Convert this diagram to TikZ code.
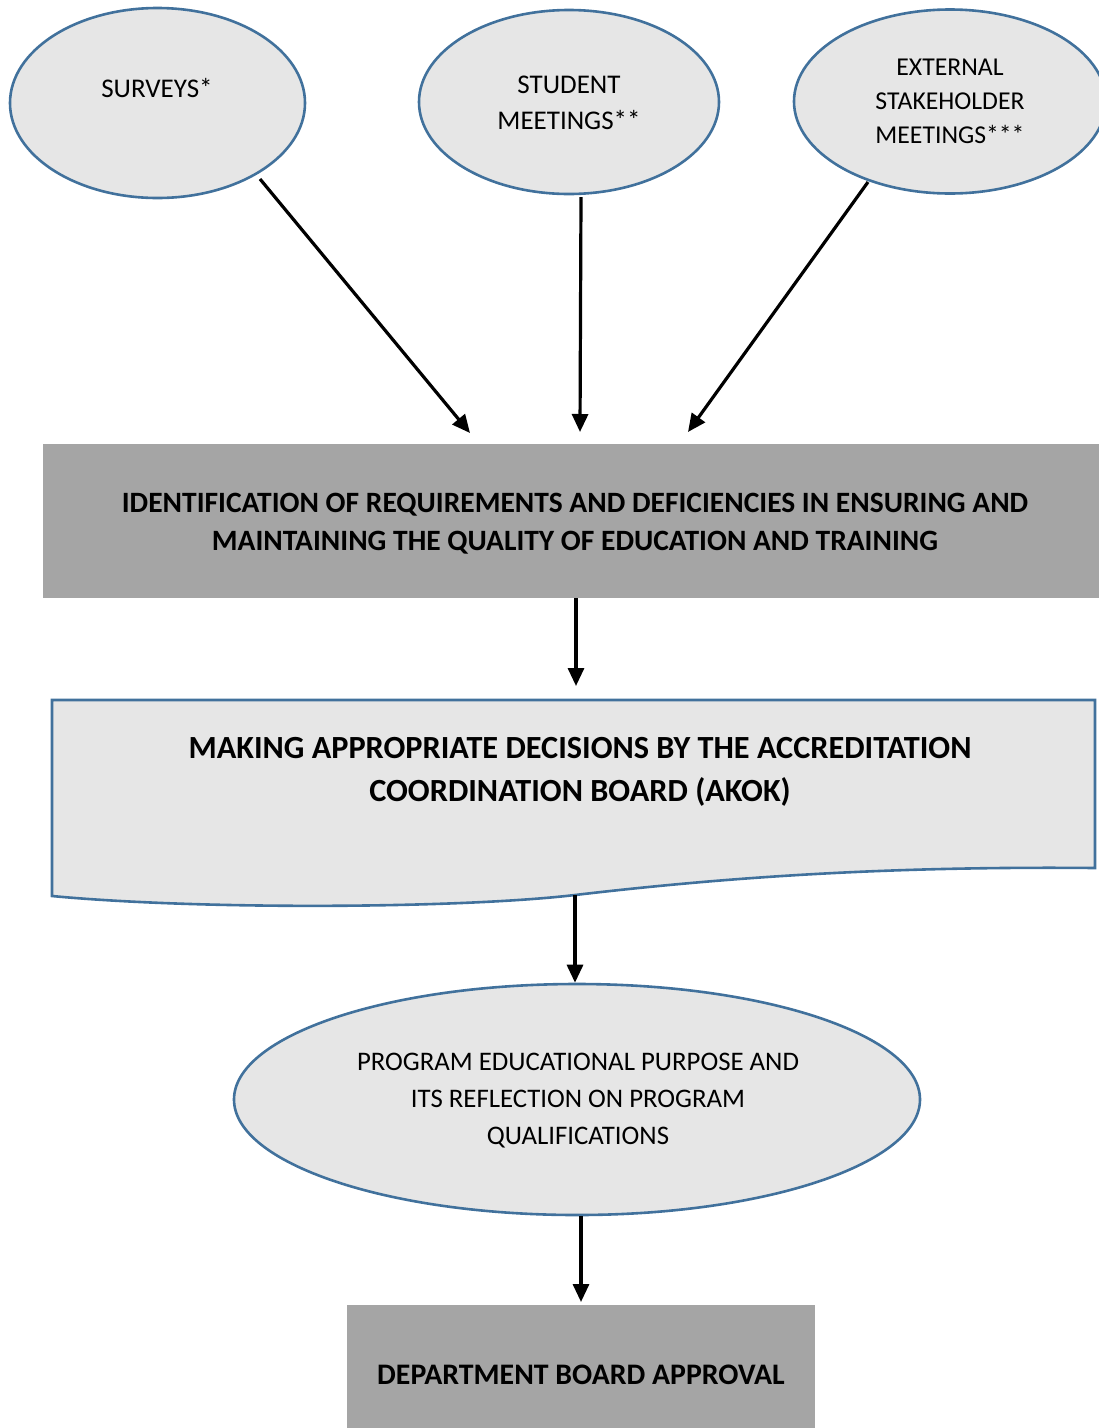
\documentclass[tikz,border=0pt]{standalone}
\usepackage{fontspec}
\setmainfont{Carlito}
\usetikzlibrary{shapes.geometric,arrows.meta}
\definecolor{ellfill}{HTML}{E6E6E6}
\definecolor{ellline}{HTML}{41719C}
\definecolor{boxfill}{HTML}{A5A5A5}
\tikzset{
  x=1pt, y=-1pt,
  oval/.style={ellipse, draw=ellline, fill=ellfill, line width=2.6pt, inner sep=0pt},
  ovaltext/.style={align=center, font=\fontsize{27}{34}\selectfont},
  greybox/.style={fill=boxfill, draw=none},
  boldtext/.style={align=center, font=\bfseries\fontsize{29.5}{38}\selectfont},
  arr/.style={line width=3.2pt, -{Triangle[length=18pt,width=16pt]}}
}
\begin{document}
\begin{tikzpicture}
\useasboundingbox (0,0) rectangle (1099,1428);
\begin{scope}
\clip (0,0) rectangle (1099,1428);
% top ellipses
\node[oval, minimum width=295pt, minimum height=190pt] (surveys) at (157.5,103) {};
\node[ovaltext] (surveystext) at (157,88) {SURVEYS*};
\node[oval, minimum width=300pt, minimum height=184pt] (student) at (569,102) {};
\node[ovaltext, font=\fontsize{27}{36}\selectfont] (studenttext) at (569,103) {STUDENT\\MEETINGS**};
\node[oval, minimum width=312pt, minimum height=184pt] (external) at (950,101.5) {};
\node[ovaltext, font=\fontsize{25.7}{34}\selectfont] (externaltext) at (950,101) {EXTERNAL\\STAKEHOLDER\\MEETINGS***};
% first grey box
\node[greybox, minimum width=1060pt, minimum height=154pt, anchor=north west] (ident) at (43,444) {};
\node[boldtext] (identtext) at (575,524) {IDENTIFICATION OF REQUIREMENTS AND DEFICIENCIES IN ENSURING AND\\MAINTAINING THE QUALITY OF EDUCATION AND TRAINING};
% document shape
\draw[draw=ellline, fill=ellfill, line width=2.6pt]
  (52,700) -- (1095,700) -- (1095,868)
  .. controls (880,866) and (720,878) .. (575,895)
  .. controls (460,908.5) and (200,910) .. (52,896) -- cycle;
\coordinate (docbottom) at (575,895);
\node[boldtext, font=\bfseries\fontsize{32.3}{43}\selectfont] (akok) at (580,772) {MAKING APPROPRIATE DECISIONS BY THE ACCREDITATION\\COORDINATION BOARD (AKOK)};
% purpose ellipse
\node[oval, minimum width=686pt, minimum height=231pt] (purpose) at (577,1099.5) {};
\node[ovaltext, font=\fontsize{26.8}{37}\selectfont] (purposetext) at (578,1101) {PROGRAM EDUCATIONAL PURPOSE AND\\ITS REFLECTION ON PROGRAM\\QUALIFICATIONS};
% last grey box
\node[greybox, minimum width=468pt, minimum height=140pt, anchor=north west] (dept) at (347,1305) {};
\node[boldtext, font=\bfseries\fontsize{29.8}{38}\selectfont] (depttext) at (581,1375) {DEPARTMENT BOARD APPROVAL};
% connectors
\coordinate (s1) at (260,179);
\coordinate (t1) at (470,433);
\coordinate (s2) at (581,197);
\coordinate (t2) at (580,432);
\coordinate (s3) at (868,182);
\coordinate (t3) at (688,432);
\coordinate (t4) at (576,686);
\coordinate (t6) at (581,1302);
\draw[arr] (s1) -- (t1);
\draw[arr] (s2) -- (t2);
\draw[arr] (s3) -- (t3);
\draw[arr] (ident.south -| t4) -- (t4);
\draw[arr] (docbottom) -- (docbottom |- purpose.north);
\draw[arr] (purpose.south -| t6) -- (t6);
\end{scope}
\end{tikzpicture}
\end{document}
